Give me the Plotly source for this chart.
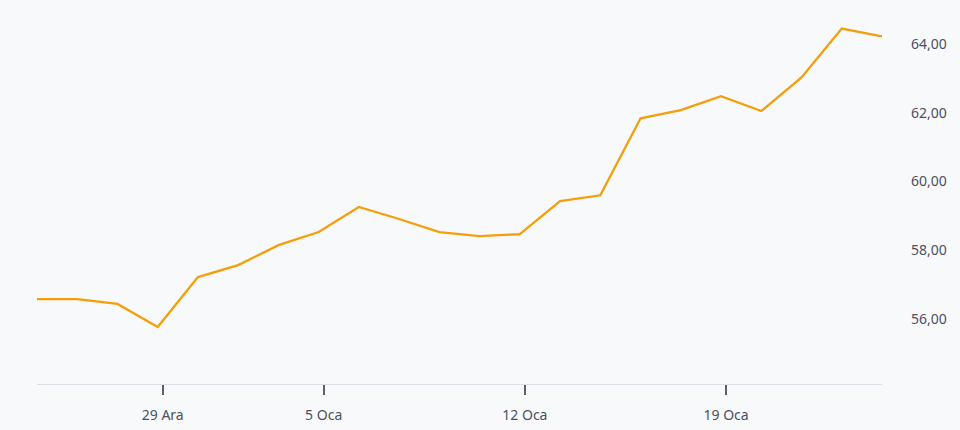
import plotly.graph_objects as go

dates = [
    "2025-12-24", "2025-12-25", "2025-12-26", "2025-12-29", "2025-12-30",
    "2025-12-31", "2026-01-02", "2026-01-05", "2026-01-06", "2026-01-07",
    "2026-01-08", "2026-01-09", "2026-01-12", "2026-01-13", "2026-01-14",
    "2026-01-15", "2026-01-16", "2026-01-19", "2026-01-20", "2026-01-21",
    "2026-01-22", "2026-01-23",
]
prices = [
    56.58, 56.58, 56.44, 55.77, 57.22, 57.57, 58.15, 58.53, 59.26, 58.91,
    58.53, 58.41, 58.47, 59.43, 59.60, 61.84, 62.08, 62.48, 62.05, 63.03,
    64.45, 64.22,
]
tick_dates = ["2025-12-29 03:00", "2026-01-05 03:00", "2026-01-12 03:00", "2026-01-19 03:00"]
tick_labels = ["29 Ara", "5 Oca", "12 Oca", "19 Oca"]
y_ticks = [56, 58, 60, 62, 64]

bg = "#f8f9fb"

fig = go.Figure()
fig.add_trace(
    go.Scatter(
        x=dates,
        y=prices,
        mode="lines",
        line=dict(color="#f59e0b", width=2.3),
        showlegend=False,
        hoverinfo="x+y",
    )
)

fig.update_layout(
    width=960,
    height=430,
    plot_bgcolor=bg,
    paper_bgcolor=bg,
    separators=",.",
    font=dict(family="Noto Sans, Open Sans, sans-serif", size=14, color="#4b5161"),
    margin=dict(l=37, r=78, t=10, b=46),
    xaxis=dict(
        type="date",
        range=[dates[0], dates[-1]],
        rangebreaks=[dict(bounds=["sat", "mon"]), dict(values=["2026-01-01"])],
        tickmode="array",
        tickvals=tick_dates,
        ticktext=tick_labels,
        ticks="outside",
        ticklen=10,
        tickwidth=1.5,
        tickcolor="#5a5f6b",
        showline=True,
        linecolor="#dcdfe5",
        linewidth=1,
        showgrid=False,
        zeroline=False,
        automargin=False,
        ticklabelstandoff=8,
    ),
    yaxis=dict(
        side="right",
        range=[54.11, 64.99],
        tickmode="array",
        tickvals=y_ticks,
        tickformat=".2f",
        showgrid=False,
        zeroline=False,
        showline=False,
        ticks="",
        automargin=False,
        ticklabelstandoff=28,
    ),
)

# drop the browser's default body margin so the figure sits at the page corner
fig.write_html(
    "out.html",
    config={"displayModeBar": False},
    post_script=f"document.body.style.margin='0';document.body.style.background='{bg}';",
)
